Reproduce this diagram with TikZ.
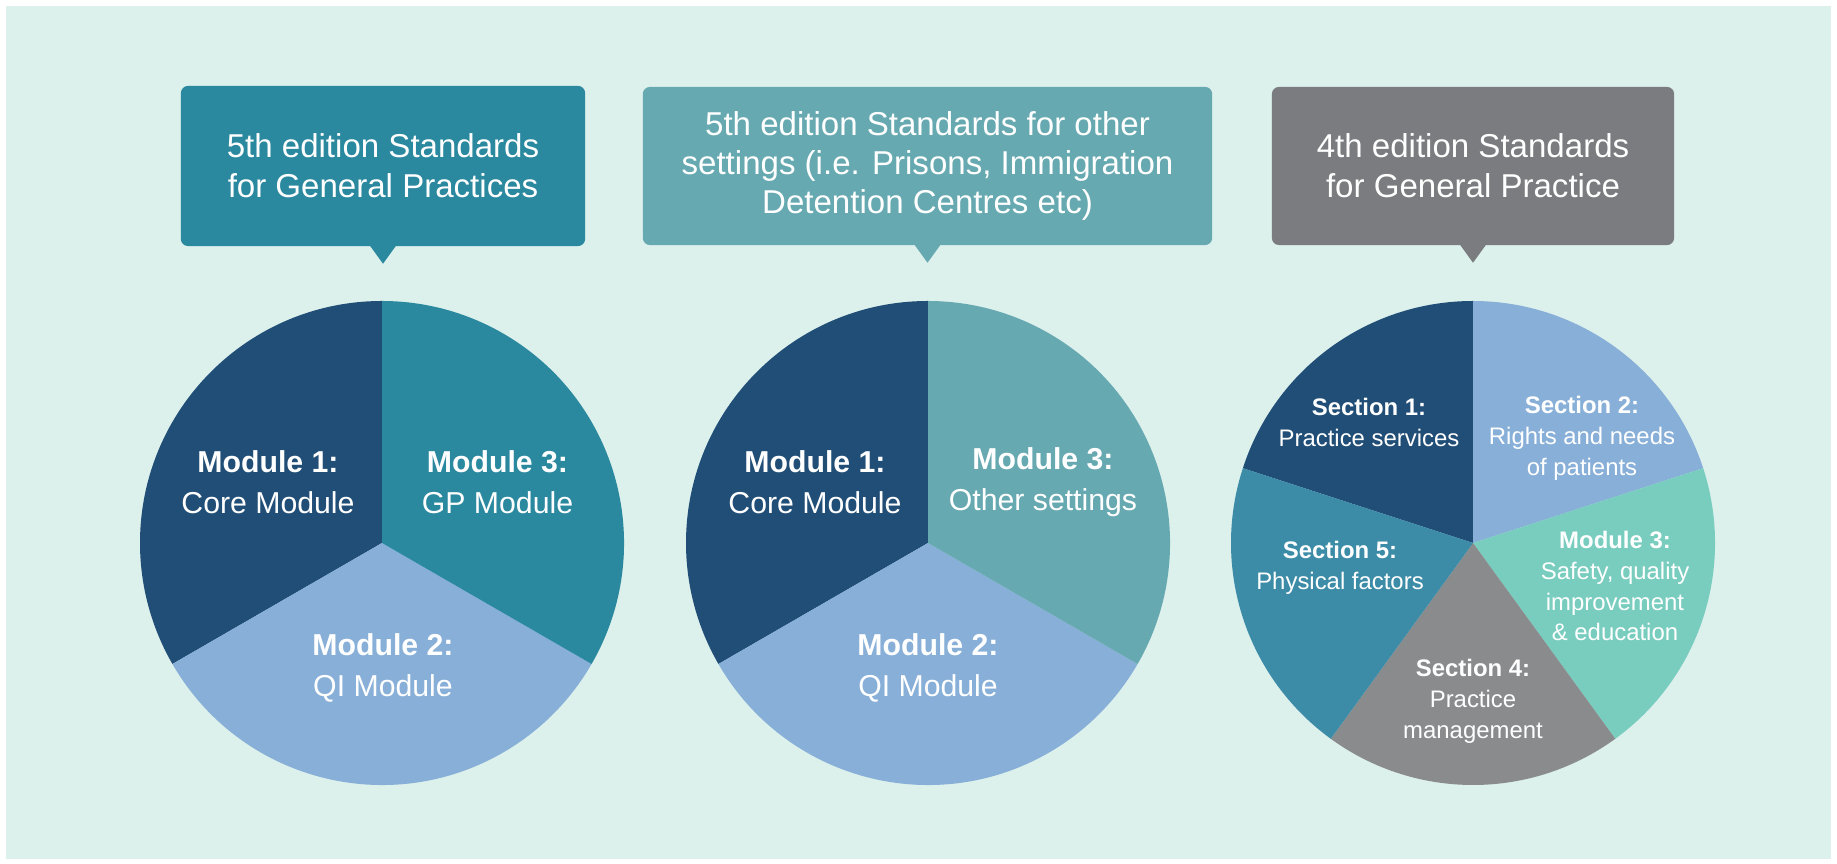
\documentclass[tikz,border=0pt]{standalone}
\usepackage{fontspec}
\setmainfont{Liberation Sans}

\definecolor{bgmint}{HTML}{DCF0EC}
\definecolor{navy}{HTML}{214E76}
\definecolor{skyblue}{HTML}{87AFD8}
\definecolor{gpteal}{HTML}{2A889F}
\definecolor{otherteal}{HTML}{66A9B1}
\definecolor{mint}{HTML}{79CDBF}
\definecolor{midgray}{HTML}{8A8B8D}
\definecolor{boxgray}{HTML}{7B7C7F}
\definecolor{physblue}{HTML}{3C8CA8}

\begin{document}
\begin{tikzpicture}[x=0.01cm,y=0.01cm,
    box/.style={fill=#1,rounded corners=2pt,text=white,align=center,inner sep=0pt,
      minimum height=1.58cm,font=\fontsize{9.4}{11.4}\selectfont},
    modlbl/.style={text=white,align=center,inner sep=0pt,font=\fontsize{8.6}{11.7}\selectfont},
    seclbl/.style={text=white,align=center,inner sep=0pt,font=\fontsize{6.8}{8.8}\selectfont}]
    \useasboundingbox (0,0) rectangle (1837,864);
    \fill[white] (0,0) rectangle (1837,864);
    \fill[bgmint] (6,5) rectangle (1831,858);

    % header boxes
    \node[box=gpteal,minimum width=4.04cm,minimum height=1.60cm] (gp5) at (383,698)
      {5th edition Standards\\for General Practices};
    \node[box=otherteal,minimum width=5.69cm,font=\fontsize{9.4}{11}\selectfont] (other5) at (927.5,698)
      {5th edition Standards for other\\settings (i.e. Prisons, Immigration\\Detention Centres etc)};
    \node[box=boxgray,minimum width=4.02cm] (gp4) at (1473,698)
      {4th edition Standards\\for General Practice};
    \fill[gpteal] (gp5.south) ++(-13,1) -- ++(13,-18) -- ++(13,18) -- cycle;
    \fill[otherteal] (other5.south) ++(-13,1) -- ++(13,-18) -- ++(13,18) -- cycle;
    \fill[boxgray] (gp4.south) ++(-13,1) -- ++(13,-18) -- ++(13,18) -- cycle;

    % pie 1
    \coordinate (p1) at (382,321);
    \fill[navy] (p1) -- ++(90:242) arc (90:210:242) -- cycle;
    \fill[skyblue] (p1) -- ++(210:242) arc (210:330:242) -- cycle;
    \fill[gpteal] (p1) -- ++(-30:242) arc (-30:90:242) -- cycle;
    \node[modlbl] (p1a) at (268,381.5) {\bfseries Module 1:\\Core Module};
    \node[modlbl] (p1c) at (497.5,381.5) {\bfseries Module 3:\\GP Module};
    \node[modlbl] (p1b) at (383,196) {\bfseries Module 2:\\QI Module};

    % pie 2
    \coordinate (p2) at (928,321);
    \fill[navy] (p2) -- ++(90:242) arc (90:210:242) -- cycle;
    \fill[skyblue] (p2) -- ++(210:242) arc (210:330:242) -- cycle;
    \fill[otherteal] (p2) -- ++(-30:242) arc (-30:90:242) -- cycle;
    \node[modlbl] (p2a) at (815,381.5) {\bfseries Module 1:\\Core Module};
    \node[modlbl] (p2c) at (1043,381.5) {\bfseries Module 3:\\Other settings};
    \node[modlbl] (p2b) at (928,196) {\bfseries Module 2:\\QI Module};

    % pie 3
    \coordinate (p3) at (1473,321);
    \fill[navy] (p3) -- ++(90:242) arc (90:162:242) -- cycle;
    \fill[skyblue] (p3) -- ++(18:242) arc (18:90:242) -- cycle;
    \fill[mint] (p3) -- ++(-54:242) arc (-54:18:242) -- cycle;
    \fill[midgray] (p3) -- ++(234:242) arc (234:306:242) -- cycle;
    \fill[physblue] (p3) -- ++(162:242) arc (162:234:242) -- cycle;
    \node[seclbl] (s1) at (1369,441.5) {\bfseries Section 1:\\Practice services};
    \node[seclbl] (s2) at (1582,426) {\bfseries Section 2:\\Rights and needs\\of patients};
    \node[seclbl] (s3) at (1615,278) {\bfseries Module 3:\\Safety, quality\\improvement\\\& education};
    \node[seclbl] (s4) at (1473,163) {\bfseries Section 4:\\Practice\\management};
    \node[seclbl] (s5) at (1340,296.5) {\bfseries Section 5:\\Physical factors};
\end{tikzpicture}
\end{document}
